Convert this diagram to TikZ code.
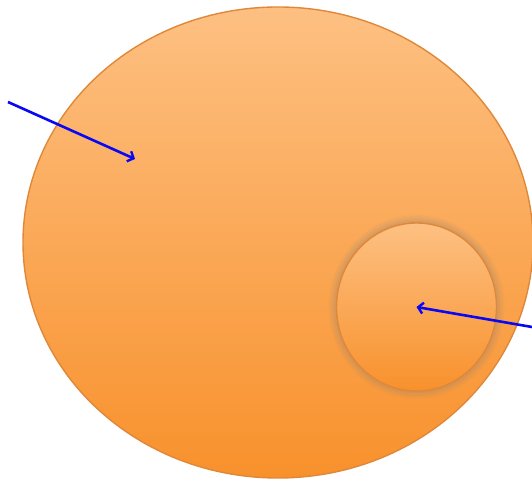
\documentclass[tikz,border=0pt]{standalone}
\usetikzlibrary{shapes.geometric,arrows.meta}
\definecolor{otop}{HTML}{FDC082}
\definecolor{obot}{HTML}{F8912C}
\definecolor{oedge}{HTML}{E0883A}
\definecolor{ablue}{HTML}{0808F2}
\definecolor{glowc}{HTML}{A08870}
\tikzset{
  blob/.style={ellipse, draw=oedge, line width=1.4pt, top color=otop, bottom color=obot, inner sep=0pt},
  pointer/.style={draw=ablue, line width=2.6pt, -{Straight Barb[length=5pt,width=11pt,line width=2.4pt]}},
}
\begin{document}
\begin{tikzpicture}[x=1pt,y=1pt]
\useasboundingbox (0,0) rectangle (532,481);
% big ellipse
\node[blob, minimum width=510pt, minimum height=471pt] (big) at (278,238.5) {};
% glow around small circle
\foreach \r/\o in {90/0.06,88.5/0.1,87/0.16,85.5/0.24,84/0.32,82.5/0.38}{
  \draw[glowc, line width=2pt, opacity=\o] (416.5,174) ellipse ({\r-3} and {\r+1});
}
\node[blob, minimum width=160pt, minimum height=168pt] (small) at (416.5,174) {};
\coordinate (s1) at (8,379);
\coordinate (t1) at (135,322);
\coordinate (s2) at (532,154);
\draw[pointer] (s1) -- (t1);
\draw[pointer] (s2) -- (small.center);
\end{tikzpicture}
\end{document}
